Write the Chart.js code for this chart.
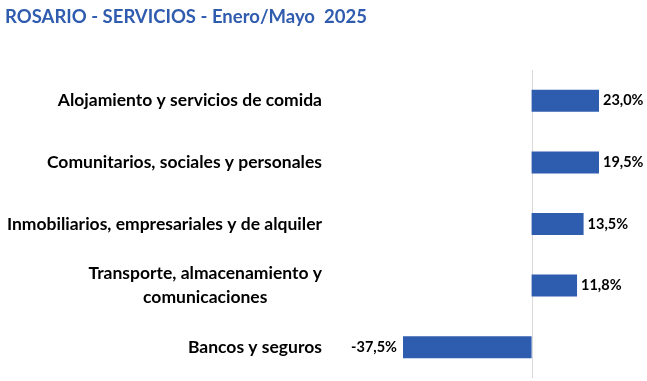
<!DOCTYPE html>
<html>
<head>
<meta charset="utf-8">
<script src="https://cdn.jsdelivr.net/npm/chart.js@4.4.1/dist/chart.umd.min.js"></script>
<style>
    html, body { margin: 0; padding: 0; background: #fff; }
    #wrap { width: 647px; height: 381px; position: relative; }
</style>
</head>
<body>
<div id="wrap"><canvas id="bar-chart-area"></canvas></div>
<script>
var chartTitle = "ROSARIO - SERVICIOS - Enero/Mayo  2025";
var arrLabel = [
    ["Alojamiento y servicios de comida"],
    ["Comunitarios, sociales y personales"],
    ["Inmobiliarios, empresariales y de alquiler"],
    ["Transporte, almacenamiento y", "comunicaciones"],
    ["Bancos y seguros"]
];
var arrData = [23.0, 19.5, 13.5, 11.8, -37.5];
var axisMin = -33.4;
var axisMax = 17.5;

var fontFamily = "Lato, Carlito, 'Liberation Sans', sans-serif";
var barColor = "#2e5db0";

function fmtPct(v) {
    return v.toFixed(1).replace(".", ",") + "%";
}

var textPlugin = {
    id: "textPlugin",
    beforeDatasetsDraw: function (chart) {
        var ctx = chart.ctx;
        var x0 = chart.scales.x.getPixelForValue(0);
        ctx.save();
        ctx.strokeStyle = "#d9d9d9";
        ctx.lineWidth = 1;
        ctx.beginPath();
        ctx.moveTo(Math.round(x0) + 0.5, chart.chartArea.top);
        ctx.lineTo(Math.round(x0) + 0.5, chart.chartArea.bottom);
        ctx.stroke();
        ctx.restore();
    },
    afterDatasetsDraw: function (chart) {
        var ctx = chart.ctx;
        var xs = chart.scales.x;
        var ys = chart.scales.y;
        ctx.save();

        // title
        ctx.fillStyle = "#2f5cae";
        ctx.font = "bold 18.5px " + fontFamily;
        ctx.textAlign = "left";
        ctx.textBaseline = "middle";
        ctx.fillText(chartTitle, 5, 17);

        // category labels, right edge of first line at x=322
        ctx.fillStyle = "#000";
        ctx.font = "bold 17.5px " + fontFamily;
        for (var i = 0; i < arrLabel.length; i++) {
            var lines = arrLabel[i];
            var yc = ys.getPixelForValue(i);
            var lh = 24;
            var w0 = ctx.measureText(lines[0]).width;
            var cx = 322 - w0 / 2;
            for (var j = 0; j < lines.length; j++) {
                var ly = yc + (j - (lines.length - 1) / 2) * lh;
                ctx.textAlign = "center";
                ctx.fillText(lines[j], cx, ly);
            }
        }

        // value labels
        ctx.font = "bold 14.5px " + fontFamily;
        for (var k = 0; k < arrData.length; k++) {
            var v = Math.max(axisMin, Math.min(axisMax, arrData[k]));
            var px = xs.getPixelForValue(v);
            var py = ys.getPixelForValue(k);
            if (arrData[k] >= 0) {
                ctx.textAlign = "left";
                ctx.fillText(fmtPct(arrData[k]), px + 4, py);
            } else {
                ctx.textAlign = "right";
                ctx.fillText(fmtPct(arrData[k]), px - 6, py);
            }
        }
        ctx.restore();
    }
};

function renderBar() {
    var configBar = {
        type: "bar",
        data: {
            labels: arrLabel,
            datasets: [{
                data: arrData,
                backgroundColor: barColor,
                borderWidth: 0,
                barPercentage: 0.357,
                categoryPercentage: 1.0
            }]
        },
        options: {
            indexAxis: "y",
            responsive: true,
            maintainAspectRatio: false,
            animation: false,
            layout: {
                padding: {left: 403, right: 48, top: 70, bottom: 3}
            },
            plugins: {
                legend: {display: false},
                title: {display: false},
                tooltip: {enabled: false}
            },
            scales: {
                x: {display: false, min: axisMin, max: axisMax},
                y: {display: false}
            }
        },
        plugins: [textPlugin]
    };
    var ctxBar = document.getElementById("bar-chart-area").getContext("2d");
    new Chart(ctxBar, configBar);
}

renderBar();
</script>
</body>
</html>
